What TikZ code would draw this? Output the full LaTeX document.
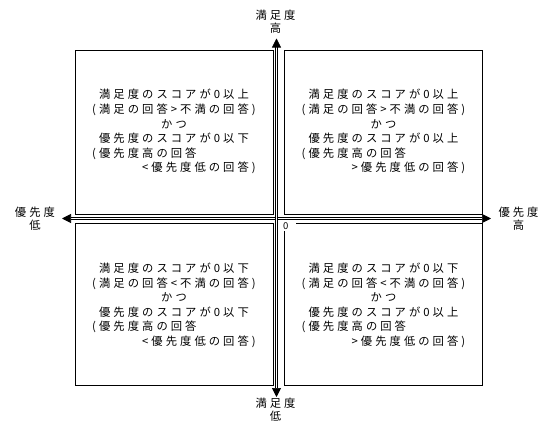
\documentclass[tikz,border=0pt]{standalone}
\usepackage{fontspec}
\setmainfont{Noto Sans CJK JP}[LetterSpace=27]
\usetikzlibrary{arrows.meta}
\tikzset{
  quad/.style={draw=black, line width=0.8pt},
  axis/.style={draw=black, line width=0.7pt, double=white, double distance=1.7pt,
               {Triangle[length=9pt,width=9pt]}-{Triangle[length=9pt,width=9pt]}},
  qtext/.style={inner sep=0pt, font=\fontsize{11.3}{14.6}\selectfont},
  lab/.style={inner sep=0pt, align=center, font=\fontsize{11.3}{13}\selectfont},
}
\begin{document}
\begin{tikzpicture}[x=1pt,y=-1pt]
\useasboundingbox (0,0) rectangle (547,423);
% quadrant boxes
\draw[quad] (75,50) rectangle (273,214);
\draw[quad] (284,50) rectangle (482,214);
\draw[quad] (75,223) rectangle (273,385);
\draw[quad] (284,223) rectangle (482,385);
% axes
\coordinate (W) at (62,218.5);
\coordinate (E) at (491,218.5);
\coordinate (N) at (276.5,38.5);
\coordinate (S) at (276.5,397);
\draw[axis] (W) -- (E);
\draw[axis] (S) -- (N);
% origin label
\node[fill=white, inner sep=0pt, minimum width=15pt, minimum height=10pt, anchor=north west,
      font=\fontsize{9.5}{10}\selectfont] (O) at (281,220.5) {\hspace*{-6pt}0};
% axis labels
\node[lab] (top) at (275.5,22) {満足度\\高};
\node[lab] (bot) at (275.5,410) {満足度\\低};
\node[lab] (lft) at (35,218.5) {優先度\\低};
\node[lab] (rgt) at (518.5,218.5) {優先度\\高};
% quadrant texts
\node[qtext] (tl) at (174,132.5) {\begin{tabular}{@{}c@{}}
満足度のスコアが0以上\\
(満足の回答>不満の回答)\\
かつ\\
優先度のスコアが0以下\\
\multicolumn{1}{@{}l@{}}{(優先度高の回答}\\
\multicolumn{1}{@{}r@{}}{<優先度低の回答)}
\end{tabular}};
\node[qtext] (tr) at (383.5,132.5) {\begin{tabular}{@{}c@{}}
満足度のスコアが0以上\\
(満足の回答>不満の回答)\\
かつ\\
優先度のスコアが0以上\\
\multicolumn{1}{@{}l@{}}{(優先度高の回答}\\
\multicolumn{1}{@{}r@{}}{>優先度低の回答)}
\end{tabular}};
\node[qtext] (bl) at (174,306) {\begin{tabular}{@{}c@{}}
満足度のスコアが0以下\\
(満足の回答<不満の回答)\\
かつ\\
優先度のスコアが0以下\\
\multicolumn{1}{@{}l@{}}{(優先度高の回答}\\
\multicolumn{1}{@{}r@{}}{<優先度低の回答)}
\end{tabular}};
\node[qtext] (br) at (383.5,306) {\begin{tabular}{@{}c@{}}
満足度のスコアが0以下\\
(満足の回答<不満の回答)\\
かつ\\
優先度のスコアが0以上\\
\multicolumn{1}{@{}l@{}}{(優先度高の回答}\\
\multicolumn{1}{@{}r@{}}{>優先度低の回答)}
\end{tabular}};
\end{tikzpicture}
\end{document}
